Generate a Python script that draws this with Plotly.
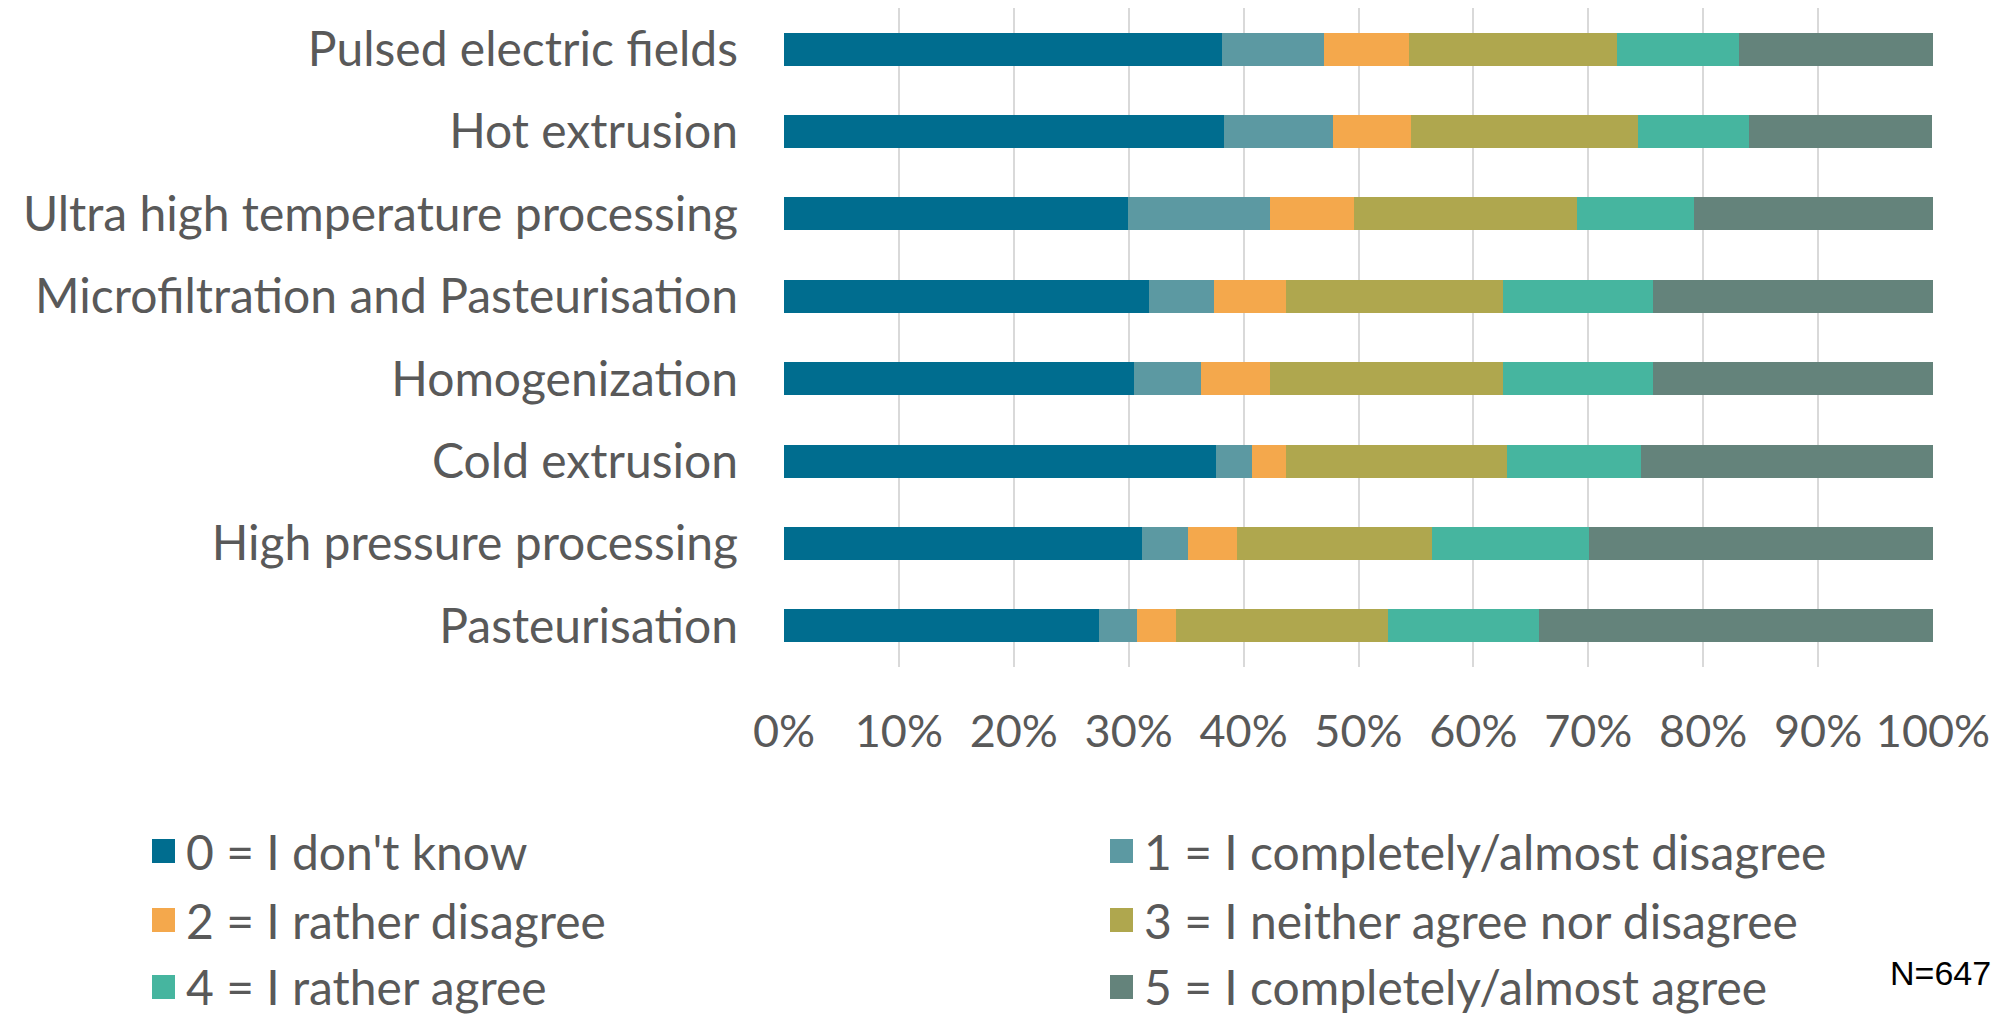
import plotly.graph_objects as go

categories = ["Pulsed electric fields", "Hot extrusion", "Ultra high temperature processing",
              "Microfiltration and Pasteurisation", "Homogenization", "Cold extrusion",
              "High pressure processing", "Pasteurisation"]

answer_labels = ["0 = I don't know", "1 = I completely/almost disagree", "2 = I rather disagree",
                 "3 = I neither agree nor disagree", "4 = I rather agree", "5 = I completely/almost agree"]

s0 = [38.1, 38.3, 29.9, 31.8, 30.5, 37.6, 31.2, 27.4]
s1 = [8.9, 9.5, 12.4, 5.6, 5.8, 3.1, 4.0, 3.3]
s2 = [7.4, 6.8, 7.3, 6.3, 6.0, 3.0, 4.2, 3.4]
s3 = [18.1, 19.7, 19.4, 18.9, 20.3, 19.2, 17.0, 18.5]
s4 = [10.6, 9.7, 10.2, 13.0, 13.0, 11.7, 13.7, 13.1]
s5 = [16.9, 15.9, 20.8, 24.4, 24.4, 25.4, 29.9, 34.3]

tick_vals = [0, 10, 20, 30, 40, 50, 60, 70, 80, 90, 100]
tick_text = ["0%", "10%", "20%", "30%", "40%", "50%", "60%", "70%", "80%", "90%", "100%"]
note = "N=647"

colors = ["#006D8F", "#5C99A2", "#F4A84C", "#AFA74E", "#46B59F", "#64837B"]
series = [s0, s1, s2, s3, s4, s5]

FONT = "Lato"
GREY = "#595959"

fig = go.Figure()
for lab, vals, col in zip(answer_labels, series, colors):
    fig.add_trace(go.Bar(y=categories, x=vals, name=lab, orientation="h",
                         marker=dict(color=col, line=dict(width=0))))

W, H = 2012, 1021
ml, mr, mt, mb = 784, 79, 8, 354

fig.update_layout(
    width=W, height=H, barmode="stack", bargap=0.6,
    margin=dict(l=ml, r=mr, t=mt, b=mb),
    paper_bgcolor="white", plot_bgcolor="white",
    showlegend=False,
    font=dict(family=FONT, color=GREY, size=46),
    xaxis=dict(range=[0, 100], tickvals=tick_vals, ticktext=tick_text,
               showgrid=True, gridcolor="#D9D9D9", gridwidth=1.5,
               zeroline=False, showline=False, ticks="",
               ticklabelstandoff=34,
               tickfont=dict(family=FONT, size=45, color=GREY)),
    yaxis=dict(categoryorder="array", categoryarray=categories[::-1],
               autorange=True,
               showgrid=False, ticks="", ticklabelstandoff=45,
               tickfont=dict(family=FONT, size=48, color=GREY)),
)

# manual legend
col_x = [152, 1110]
row_y = [851, 920, 987]
sw, sh = 23, 24
for i, (lab, col) in enumerate(zip(answer_labels, colors)):
    r, c = divmod(i, 2)
    x0 = col_x[c]
    yc = row_y[r]
    fig.add_shape(type="rect", xref="paper", yref="paper",
                  x0=(x0 - ml) / (W - ml - mr), x1=(x0 + sw - ml) / (W - ml - mr),
                  y0=(H - mb - (yc + sh / 2)) / (H - mt - mb), y1=(H - mb - (yc - sh / 2)) / (H - mt - mb),
                  fillcolor=col, line=dict(width=0))
    fig.add_annotation(text=lab, xref="paper", yref="paper",
                       x=(x0 + sw + 10 - ml) / (W - ml - mr), y=(H - mb - yc) / (H - mt - mb),
                       xanchor="left", yanchor="middle", showarrow=False, borderpad=0,
                       font=dict(family=FONT, size=48, color=GREY))

fig.add_annotation(text=note, xref="paper", yref="paper",
                   x=(1993 - ml) / (W - ml - mr), y=(H - mb - 973) / (H - mt - mb),
                   xanchor="right", yanchor="middle", showarrow=False,
                   font=dict(family="Liberation Sans, Arial", size=34, color="#000000"))

fig.write_html("out.html")
